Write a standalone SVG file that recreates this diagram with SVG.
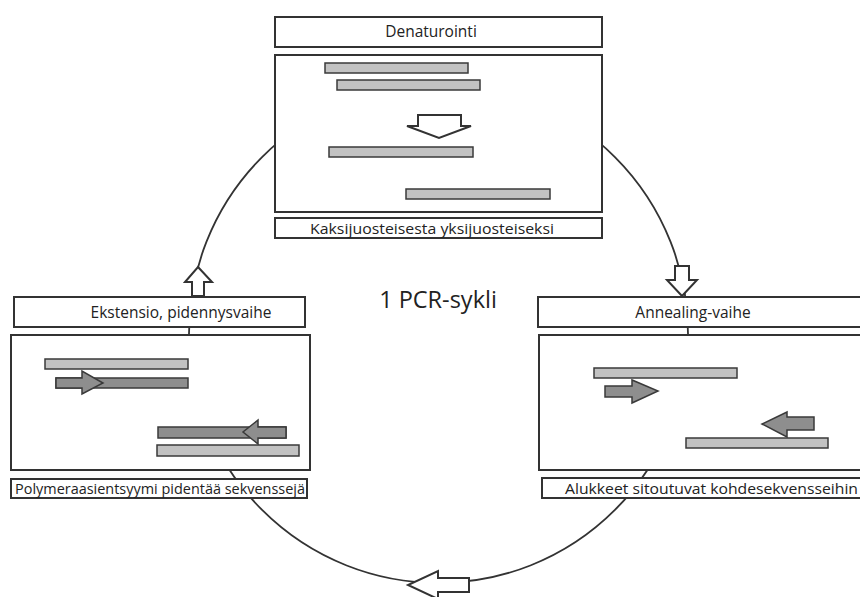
<svg xmlns="http://www.w3.org/2000/svg" width="860" height="597" viewBox="0 0 860 597">
<style>
.box{fill:#fff;stroke:#333;stroke-width:2}
.lbl{fill:#fff;stroke:#333;stroke-width:2}
.light{fill:#c2c2c2;stroke:#3a3a3a;stroke-width:1.5}
.dark{fill:#8e8e8e;stroke:#3a3a3a;stroke-width:1.5}
.blk{fill:#fff;stroke:#333;stroke-width:2;stroke-linejoin:miter}
.ring{fill:none;stroke:#333;stroke-width:1.8}
text{font-family:"Open Sans","Liberation Sans",sans-serif;fill:#222;text-anchor:middle}
.t{font-size:15.5px}
.l{font-size:15px}
</style>
<rect width="860" height="597" fill="#fff"/>
<g id="connectors">
<circle class="ring" cx="438.5" cy="333.5" r="249.5"/>
<polygon class="blk" points="198,267 212,282 204,282 204,296 192,296 192,282 185,282"/>
<polygon class="blk" points="675,266 689,266 689,280 697,280 682,296 667,280 675,280"/>
<polygon class="blk" points="469,578 469,592 438,592 438,599 408,585 438,571 438,578"/>
</g>
<g id="denaturointi">
<rect class="box" x="275" y="17" width="327" height="30"/>
<text class="t" x="431" y="37">Denaturointi</text>
<rect class="box" x="275" y="55" width="327" height="157"/>
<rect class="light" x="325" y="63" width="143" height="10"/>
<rect class="light" x="337" y="80" width="143" height="10"/>
<polygon class="blk" points="418,115 461,115 461,126 471,126 439,138 407,126 418,126"/>
<rect class="light" x="329" y="147" width="144" height="10"/>
<rect class="light" x="406" y="189" width="144" height="10"/>
<rect class="lbl" x="275" y="218" width="327" height="20"/>
<text class="l" x="432" y="233.5" textLength="244" lengthAdjust="spacingAndGlyphs">Kaksijuosteisesta yksijuosteiseksi</text>
</g>
<g id="ekstensio">
<rect class="box" x="14" y="297" width="291" height="30"/>
<text class="t" x="181" y="318">Ekstensio, pidennysvaihe</text>
<rect class="box" x="11" y="335" width="299" height="135"/>
<rect class="light" x="45" y="359" width="143" height="10"/>
<rect class="dark" x="56" y="378" width="132" height="10"/>
<polygon class="dark" points="56,378 82,378 82,371 103,383 82,394 82,388 56,388"/>
<rect class="dark" x="158" y="427" width="128" height="11"/>
<polygon class="dark" points="286,427 258,427 258,420 243,432 258,444 258,438 286,438"/>
<rect class="light" x="157" y="445" width="142" height="11"/>
<rect class="lbl" x="11" y="479" width="296" height="19"/>
<text class="l" x="160" y="494" textLength="290" lengthAdjust="spacingAndGlyphs">Polymeraasientsyymi pidentää sekvenssejä</text>
</g>
<g id="annealing">
<rect class="box" x="538" y="297" width="330" height="30"/>
<text class="t" x="693" y="318">Annealing-vaihe</text>
<rect class="box" x="539" y="335" width="330" height="135"/>
<rect class="light" x="594" y="368" width="143" height="10"/>
<polygon class="dark" points="605,386 632,386 632,380 658,391 632,403 632,397 605,397"/>
<polygon class="dark" points="814,417 787,417 787,412 762,424 787,437 787,430 814,430"/>
<rect class="light" x="686" y="438" width="142" height="10"/>
<rect class="lbl" x="542" y="478" width="330" height="20"/>
<text class="l" x="565" y="493.5" style="text-anchor:start" textLength="293" lengthAdjust="spacingAndGlyphs">Alukkeet sitoutuvat kohdesekvensseihin</text>
</g>
<g id="sykli">
<text x="438" y="308" style="font-size:23.5px">1 PCR-sykli</text>
</g>
</svg>
